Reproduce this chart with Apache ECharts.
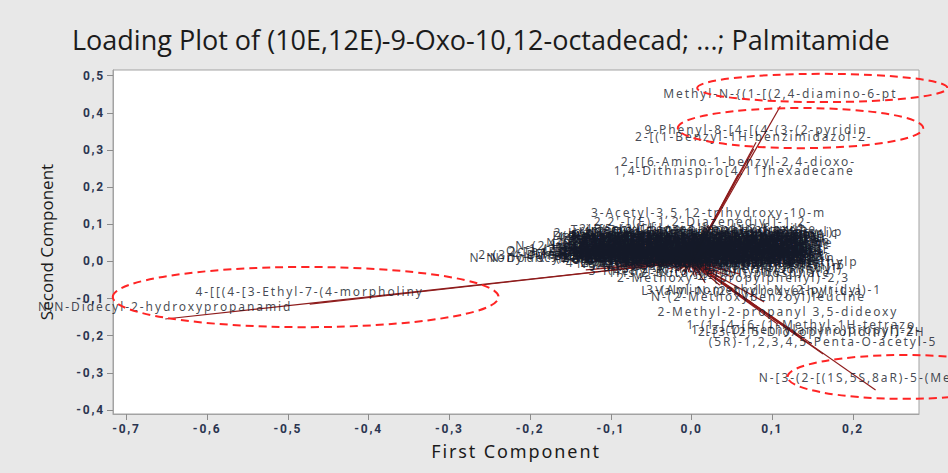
<!DOCTYPE html>
<html>
<head>
<meta charset="utf-8">
<title>Loading Plot</title>
<script src="https://cdn.jsdelivr.net/npm/echarts@6/dist/echarts.min.js"></script>
<style>
  html, body { margin: 0; padding: 0; background: #e8e8e8; }
  #chart { width: 948px; height: 473px; }
  /* spaced-out lettering for the variable labels, x-axis name and tick labels */
  #chart text[style*="Noto Sans"] { letter-spacing: 1.9px; }
  #chart text[style*="Roboto"] { letter-spacing: 1.8px; }
</style>
</head>
<body>
<div id="chart"></div>
<script>
// Variables that sit away from the main group
const outlierNames = [
  'Methyl-N-{(1-[(2,4-diamino-6-pt',
  '9-Phenyl-8-[4-[(4-(3-(2-pyridin',
  '2-[(1-Benzyl-1H-benzimidazol-2-',
  '2-[[6-Amino-1-benzyl-2,4-dioxo-',
  '1,4-Dithiaspiro[4.11]hexadecane',
  '3-Acetyl-3,5,12-trihydroxy-10-m',
  'N,N-Didecyl-2-hydroxypropanamid',
  '4-[[(4-[3-Ethyl-7-(4-morpholiny',
  '2-Methoxy-4-(propylphenyl)-2,3',
  '1-[2-(4-Hydroxyphenyl)ethyl]-5',
  'L-Valyl-N-(2-hydroxyethyl)-L-a',
  '3-(Aminomethyl)-N-(2-pyridyl)-1',
  'N-(2-Methoxybenzoyl)leucine',
  '2-Methyl-2-propanyl 3,5-dideoxy',
  '1-(1-[4-[6-(1-Methyl-1H-tetrazo',
  '2-[3-(2,5-Dioxopyrrolidinyl)-2H',
  '1-[3-(Dimethylamino)propyl]-2-',
  '(5R)-1,2,3,4,5-Penta-O-acetyl-5',
  'N-[3-(2-[(1S,5S,8aR)-5-(Methoxy'
];
const outlierPC1 = [0.110, 0.080, 0.077, 0.058, 0.053, 0.021, -0.652, -0.473, 0.052, 0.050,
                    0.075, 0.090, 0.083, 0.107, 0.136, 0.149, 0.142, 0.163, 0.228];
const outlierPC2 = [0.418, 0.321, 0.303, 0.235, 0.211, 0.098, -0.155, -0.115, -0.075, -0.042,
                    -0.112, -0.109, -0.128, -0.169, -0.204, -0.222, -0.217, -0.249, -0.346];

// Variables packed near the origin
const clusterNames = [
  "2,2'-[(E)-1,2-Diazenediyl]-1,2-", '4-[5-(2-Chlorophenyl)-2-furyl]', '(2R)-2-Amino-3-(1H-indol-3-yl)p', '5-(4-Methylphenyl)-1,3,4-oxadi',
  'Hexadecanoic acid, 2-hydroxy-1', '9,12-Octadecadienoic acid (Z,Z)', '(10E,12E)-9-Oxo-10,12-octadecad', '1-Palmitoyl-2-hydroxy-sn-glycer',
  '3-(3,4-Dihydroxyphenyl)-2-propen', 'N-(1,3-Benzodioxol-5-ylmethyl)-', '2-Amino-1-(4-nitrophenyl)-1,3-p', '4-Hydroxy-3-methoxycinnamaldehy',
  '(2E)-3-(4-Hydroxyphenyl)-N-[2-(', '5-Hydroxy-2-(4-hydroxyphenyl)-7', '1-O-Hexadecyl-2-O-acetyl-sn-gly', '6-[(4-Methylpiperazin-1-yl)meth',
  'N-Acetyl-L-phenylalanyl-L-tyros', '2-(3,4-Dimethoxyphenyl)-5,7-dih', '3-Hydroxy-4-methoxybenzaldehyde', '(9Z)-N-(2-Hydroxyethyl)octadec-',
  '7-Methoxy-2,2-dimethyl-2H-chrom', '4-[(E)-2-(4-Hydroxyphenyl)vinyl', "N,N'-Dicyclohexyl-4-morpholine", '2-Hydroxy-6-pentadecylbenzoic a',
  'Ethyl (2E)-3-(4-hydroxy-3-metho', '8-Hydroxy-5,7-dimethoxy-4-phen', '(3beta)-Stigmast-5-en-3-ol glu', '6-Methyl-5-hepten-2-one oxime',
  'Dibenzyl (2S)-2-aminopentanedio', '3-Benzyl-6-isobutyl-2,5-piperaz', '13-Docosenamide, (13Z)-', 'N-[(2S)-1-Hydroxy-3-phenylprop',
  '4-Methyl-7-(diethylamino)coumar', '2,6-Di-tert-butyl-4-methylphen', '1-Stearoyl-rac-glycerol', 'Benzyl 4-hydroxy-3-methoxybenzo',
  '(4aS,8aR)-Octahydro-2H-chromen', '3,4,5-Trimethoxycinnamic acid', 'Dodecyl 2-(dimethylamino)propan', 'Tetrahydro-2H-pyran-2-ylmethyl',
  'Palmitamide', 'Oleamide', 'Stearamide', 'Linoleamide', 'Erucamide', 'Phytosphingosine', 'Myristamide', 'Sphinganine',
  "N-Nonyl-N'-(2-hydroxyethyl)pro", '2-(3,4-Dihydroxyphenyl)-N-hexad', 'N-Dodecyl-2-methylprop-2-enami', '2-[3-(Dodecyloxy)propyl]isoind',
  '4-(Tetradecyloxy)benzoic acid', '1-(2-Hydroxyethyl)-2-heptadecyl', 'Methyl 12-hydroxyoctadec-9-enoa', 'N-(2-Hydroxypropyl)hexadecanam',
  'Octadecyl 3-(3,5-di-tert-butyl',
  '2-[4-(Diethylamino)benzylidene]', '5-Methoxy-N,N-dimethyltryptamin', '(2S)-2-Amino-4-(methylsulfanyl)', '3-Phenyl-N-(3-pyridinylmethyl)-',
  '1-(4-Fluorophenyl)-4-(4-methylp', 'Tris(2-butoxyethyl) phosphate',
  '3-(4-Hydroxy-3-methoxyphenyl)pr', 'N-Benzyl-2-(2-oxopyrrolidin-1-y', '1-(2-Methoxyphenyl)piperazine-4', '2-Phenylethyl 3-phenylprop-2-en',
  '4-Oxo-4H-chromene-2-carboxylic', '(2S,3R)-2-Aminooctadecane-1,3-d', 'Diisooctyl benzene-1,2-dicarbox', '5-[(3-Methylbutanoyl)amino]pent',
  'Methyl (9Z,12Z)-octadeca-9,12-d', '1-Linoleoyl-rac-glycerol', '6-Hydroxy-4,4,7a-trimethyl-5,6,', '2-(4-Morpholinyl)ethyl 2-methyl',
  'N-(4-Chlorophenyl)-3-oxobutanam', 'Glycerophosphocholine', '4-tert-Butylcyclohexyl acetate', '1,2-Dioleoyl-sn-glycero-3-phos',
  'Cyclo(L-leucyl-L-prolyl)', 'Nonanedioic acid, dimethyl este', '(E)-3-(3,4-Dimethoxyphenyl)-N-b', '7-Hydroxy-6-methoxy-2H-chromen-',
  '2-Hydroxy-4-methoxybenzophenone', 'N-(3-Phenylpropanoyl)glycine me', '1-Hexadecanoyl-sn-glycero-3-pho', '4-Amino-N-(5-methyl-3-isoxazoly',
  '(2E,4E)-Deca-2,4-dienal semicar', '3-Methyl-1-phenyl-2-pyrazolin-5', 'Ethyl 4-(dimethylamino)benzoate', '5-Phenyl-2-(pyridin-4-yl)-1,3-o',
  '8-Methylnonyl 2-methylprop-2-en', 'Bis(2-ethylhexyl) hexanedioate', '2-(2-Butoxyethoxy)ethyl acetate', '(S)-2-Hydroxy-3-phenylpropanoic',
  'N-(2-Phenylethyl)-4-methylbenza', '4-Methoxy-N-(4-methylbenzyl)ani', 'Heptadecanoic acid, 2-hydroxyet', '6,7-Dimethoxy-1-methyl-3,4-dihy',
  '3-Oxo-N-phenylbutanamide', '1-Methyl-4-(propan-2-yl)cyclohe', 'Dihydroxybenzoic acid methyl es', '2-(4-Isobutylphenyl)propanoic a',
  'Tetradecyl 2-hydroxypropanoate', 'N-Methyl-N-(2-phenylethyl)amine', '5-Pentyl-1,3-benzenediol monoac', '(1R,2S)-2-Phenylcyclopropan-1-a',
  '9-Hexadecenoic acid, (9Z)-, eth', '3-(1H-Indol-3-yl)-2-propenoic a', 'N-Octadecanoylethanolamine', '1,3-Diphenylpropane-1,3-dione',
  '2,4-Di-tert-butylphenol', '4-Hydroxy-6-methyl-2H-pyran-2-on', 'Diethyl 2-benzylidenemalonate', 'L-Pyroglutamyl-L-phenylalanine',
  'Dehydroabietic acid methyl este', 'Hexyl 3-phenylprop-2-enoate', 'N-Lauroyldiethanolamine', '11-Hydroxy-9,10-dihydrojasmonic',
  '2-Benzylidene-1-heptanal oxime', 'Trimethyl citrate monohydrate', '4-Phenylbutan-2-yl acetate', '1-Acetyl-4-phenylpiperazine'
];
const clusterPC1 = [
  0.014, 0.004, 0.044, 0.023,
  -0.004, 0.011, -0.012, 0.003, 0.018, -0.007, 0.008, -0.017,
  -0.002, 0.013, -0.009, 0.006, 0.021, -0.014, 0.001, 0.016,
  -0.007, 0.008, -0.019, -0.002, 0.013, -0.009, 0.006, -0.004,
  0.003, -0.009, 0.026, -0.022, 0.018, 0.003, 0.030, -0.014,
  0.011, -0.029, 0.023, -0.002,
  -0.039, 0.038, -0.051, 0.050, -0.029, 0.030, -0.034, 0.043,
  -0.131, -0.113, -0.098, -0.086, -0.069, -0.054, -0.039, -0.064, -0.095,
  0.011, 0.029, 0.042, 0.017, 0.060, 0.035,
  0.001, -0.014, 0.011, -0.004, 0.006, -0.009, 0.018, 0.001,
  -0.017, 0.016, -0.002, 0.021, -0.024, 0.026, -0.019, 0.008,
  0.035, 0.006, -0.012, 0.011,
  -0.007, 0.013, 0.003, -0.017, 0.023, -0.002, 0.008, -0.012,
  0.016, 0.001, -0.019, 0.021, -0.007, 0.011, -0.014, 0.003,
  0.023, -0.004, -0.022, 0.013, -0.002, -0.012, 0.021, 0.006,
  -0.019, -0.004, 0.026, 0.011, -0.009, 0.003, -0.027, 0.030,
  -0.024, 0.033, -0.031, 0.028, 0.008, -0.009, 0.018, -0.014
];
const clusterPC2 = [
  0.074, 0.055, 0.047, 0.036,
  0.036, 0.033, 0.028, 0.025, 0.023, 0.020, 0.017, 0.015,
  0.012, 0.009, 0.006, 0.004, 0.001, -0.002, -0.004, -0.007,
  -0.010, -0.012, -0.015, -0.018, -0.020, -0.023, -0.026, -0.029,
  0.039, 0.031, 0.015, 0.006, -0.002, -0.010, -0.015, -0.018,
  0.004, -0.007, -0.023, 0.023,
  0.015, 0.006, -0.002, -0.007, -0.020, 0.025, 0.025, -0.023,
  -0.023, -0.015, -0.023, -0.007, -0.018, 0.001, -0.012, 0.009, -0.004,
  -0.037, -0.045, -0.053, -0.058, -0.034, -0.064,
  0.031, 0.023, 0.015, 0.006, -0.002, -0.007, -0.012, -0.020,
  -0.026, -0.029, 0.042, 0.028, 0.017, -0.004, 0.001, 0.047,
  -0.034, -0.039, 0.036, -0.007,
  0.044, 0.041, 0.036, 0.033, 0.031, 0.028, 0.025, 0.023,
  0.020, 0.017, 0.015, 0.012, 0.009, 0.006, 0.004, 0.001,
  -0.002, -0.004, -0.007, -0.010, -0.012, -0.015, -0.018, -0.020,
  -0.023, -0.026, -0.029, -0.031, -0.034, -0.037, 0.004, 0.017,
  0.036, -0.012, -0.004, 0.044, 0.055, 0.052, -0.037, 0.009
];

// Axis ticks
const xTicks = [-0.7, -0.6, -0.5, -0.4, -0.3, -0.2, -0.1, 0.0, 0.1, 0.2];
const yTicks = [-0.4, -0.3, -0.2, -0.1, 0.0, 0.1, 0.2, 0.3, 0.4, 0.5];

// Highlight ellipses (centre and half-axes in data units)
const ellipseCx = [0.162, 0.135, -0.478, 0.265];
const ellipseCy = [0.467, 0.359, -0.096, -0.311];
const ellipseRx = [0.155, 0.152, 0.239, 0.146];
const ellipseRy = [0.038, 0.054, 0.081, 0.059];

const names = clusterNames.concat(outlierNames);
const pc1 = clusterPC1.concat(outlierPC1);
const pc2 = clusterPC2.concat(outlierPC2);

const fmt = v => (Math.abs(v) < 1e-9 ? 0 : v).toFixed(1).replace('.', ',');

const chart = echarts.init(document.getElementById('chart'), null, { renderer: 'svg' });

chart.setOption({
  animation: false,
  backgroundColor: '#e8e8e8',
  title: {
    text: 'Loading Plot of (10E,12E)-9-Oxo-10,12-octadecad; ...; Palmitamide',
    left: 72,
    top: 26,
    padding: 0,
    textStyle: { fontFamily: 'Open Sans', fontSize: 27, fontWeight: 'normal', color: '#1b1b1b' }
  },
  grid: {
    left: 113, right: 29, top: 70, bottom: 59,
    show: true, backgroundColor: '#ffffff', borderColor: '#a3a3a3', borderWidth: 1
  },
  xAxis: {
    type: 'value',
    min: -0.7167, max: 0.2818,
    name: 'First Component',
    nameLocation: 'middle',
    nameGap: 28,
    nameTextStyle: { fontFamily: 'Noto Sans', fontSize: 18, color: '#1b1b1b' },
    splitLine: { show: false },
    axisLine: { show: true, onZero: false, lineStyle: { color: '#a3a3a3' } },
    axisTick: { show: true, length: 6, customValues: xTicks, lineStyle: { color: '#8c8c8c' } },
    axisLabel: {
      customValues: xTicks, formatter: fmt, margin: 9,
      fontFamily: 'Roboto', fontWeight: 'bold', fontSize: 12, color: '#2b3550'
    }
  },
  yAxis: {
    type: 'value',
    min: -0.4108, max: 0.5154,
    name: 'Second Component',
    nameLocation: 'middle',
    nameRotate: 90,
    nameGap: 58,
    nameTextStyle: { fontFamily: 'Open Sans', fontSize: 17, color: '#1b1b1b' },
    splitLine: { show: false },
    axisLine: { show: true, onZero: false, lineStyle: { color: '#a3a3a3' } },
    axisTick: { show: true, length: 6, customValues: yTicks, lineStyle: { color: '#8c8c8c' } },
    axisLabel: {
      customValues: yTicks, formatter: fmt, margin: 8,
      fontFamily: 'Roboto', fontWeight: 'bold', fontSize: 12, color: '#2b3550'
    }
  },
  series: [
    {
      // loading vectors from the origin
      type: 'lines',
      coordinateSystem: 'cartesian2d',
      silent: true,
      z: 1,
      lineStyle: { color: '#8e1c1c', width: 1.2, opacity: 1 },
      data: names.map((n, i) => ({ coords: [[0, 0], [pc1[i], pc2[i]]] }))
    },
    {
      type: 'scatter',
      silent: true,
      z: 3,
      symbolSize: 0.5,
      itemStyle: { color: 'rgba(0,0,0,0)' },
      label: {
        show: true,
        position: 'top',
        distance: 5,
        formatter: p => p.name,
        fontFamily: 'Noto Sans',
        fontSize: 12,
        lineHeight: 14,
        color: '#141928'
      },
      emphasis: { disabled: true },
      data: names.map((n, i) => ({ name: n, value: [pc1[i], pc2[i]] }))
    }
  ]
});

// Dashed highlight ellipses, placed through the grid's coordinate conversion
const ellipses = ellipseCx.map((cx, i) => {
  const c = chart.convertToPixel({ gridIndex: 0 }, [cx, ellipseCy[i]]);
  const e = chart.convertToPixel({ gridIndex: 0 }, [cx + ellipseRx[i], ellipseCy[i] + ellipseRy[i]]);
  return {
    type: 'ellipse',
    silent: true,
    z: 100,
    shape: { cx: c[0], cy: c[1], rx: Math.abs(e[0] - c[0]), ry: Math.abs(e[1] - c[1]) },
    style: { fill: 'none', stroke: '#ff2424', lineWidth: 2, lineDash: [8, 5] }
  };
});
chart.setOption({ graphic: ellipses });
</script>
</body>
</html>
